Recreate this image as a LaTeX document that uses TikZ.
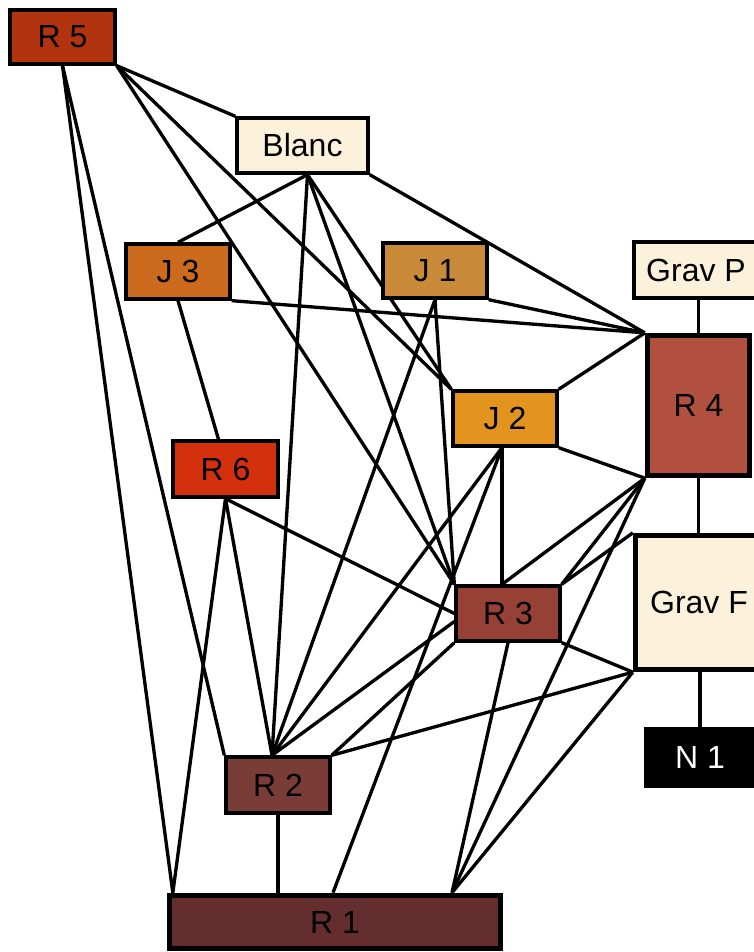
\documentclass[tikz,border=0pt]{standalone}
\usepackage{fontspec}
\setmainfont{Liberation Sans}
\usetikzlibrary{calc,backgrounds}
\definecolor{cR5}{HTML}{B2340E}
\definecolor{cCream}{HTML}{FCF2DC}
\definecolor{cJ3}{HTML}{CC6A1E}
\definecolor{cJ1}{HTML}{C98A3A}
\definecolor{cJ2}{HTML}{E3941E}
\definecolor{cR4}{HTML}{B25040}
\definecolor{cR6}{HTML}{D5300E}
\definecolor{cR3}{HTML}{964036}
\definecolor{cR2}{HTML}{7A3C37}
\definecolor{cR1}{HTML}{632E2D}
\begin{document}
\begin{tikzpicture}[x=0.75pt,y=-0.75pt,
  box/.style={draw=black, line width=2.5pt, inner sep=0pt, text=black,
    font=\fontsize{24}{28}\selectfont},
  thickbox/.style={box, line width=4pt},
  edge/.style={draw=black, line width=2.5pt}]
\useasboundingbox (0,0) rectangle (753,952);

% nodes
\node[box, fill=cR5, minimum width=78.75pt, minimum height=40.5pt] (R5) at (62.5,37) {R 5};
\node[box, fill=cCream, minimum width=98.25pt, minimum height=41.25pt] (Blanc) at (302.5,145.5) {Blanc};
\node[box, fill=cJ3, minimum width=78pt, minimum height=41.25pt] (J3) at (178,271.5) {J 3};
\node[box, fill=cJ1, minimum width=78pt, minimum height=41.25pt] (J1) at (435,270.5) {J 1};
\node[box, fill=cCream, minimum width=93pt, minimum height=42pt] (GravP) at (696,270) {Grav P};
\node[thickbox, fill=cR4, minimum width=76.5pt, minimum height=105pt] (R4) at (698.5,405.5) {R 4};
\node[box, fill=cJ2, minimum width=78pt, minimum height=41.25pt] (J2) at (505,418.5) {J 2};
\node[box, fill=cR6, minimum width=78.75pt, minimum height=42pt] (R6) at (225.5,469) {R 6};
\node[box, fill=cR3, minimum width=78pt, minimum height=41.25pt] (R3) at (508,613.5) {R 3};
\node[thickbox, fill=cCream, minimum width=95.25pt, minimum height=100.5pt] (GravF) at (699,602.5) {Grav F};
\node[box, fill=black, text=white, minimum width=81pt, minimum height=42.75pt] (N1) at (700,757.5) {N 1};
\node[box, fill=cR2, minimum width=78pt, minimum height=42pt] (R2) at (278,785) {R 2};
\node[thickbox, fill=cR1, minimum width=248.25pt, minimum height=40pt] (R1) at (335,922) {R 1};

% connector end points
\coordinate (R1a) at ($(R1.north west)+(6,0)$);
\coordinate (R1b) at (R2.south |- R1.north);
\coordinate (R1c) at ($(R1.north)+(-2,0)$);
\coordinate (R1d) at ($(R1.north)+(117,0)$);
\coordinate (Bs) at ($(Blanc.south)+(5,0)$);
\coordinate (R2n) at ($(R2.north)+(-6,0)$);
\coordinate (R6n) at ($(R6.north)+(-7,0)$);
\coordinate (J2s) at ($(J2.south)+(-3,0)$);
\coordinate (R3n) at (J2s |- R3.north);
\coordinate (R3w2) at ($(R3.west)+(0,8)$);
\coordinate (GPs) at (R4.north |- GravP.south);
\coordinate (GFn) at (R4.south |- GravF.north);
\coordinate (GFs) at (GravF.south -| N1.north);

\begin{scope}[on background layer]
\draw[edge] (R5.south east) -- (Blanc.north west);
\draw[edge] (R5.south east) -- (J2.north west);
\draw[edge] (R5.south east) -- (R3.north west);
\draw[edge] (R5.south) -- (R2.north west);
\draw[edge] (R5.south) -- (R1a);
\draw[edge] (Bs) -- (J3.north);
\draw[edge] (Bs) -- (R2n);
\draw[edge] (Bs) -- (R3.north west);
\draw[edge] (Bs) -- (J2.north west);
\draw[edge] (Blanc.south east) -- (R4.north west);
\draw[edge] (J3.south) -- (R6n);
\draw[edge] (J3.south east) -- (R4.north west);
\draw[edge] (J1.south east) -- (R4.north west);
\draw[edge] (J1.south) -- (R2n);
\draw[edge] (J1.south) -- (R3.north west);
\draw[edge] (J2.north east) -- (R4.north west);
\draw[edge] (J2.south east) -- (R4.south west);
\draw[edge] (J2s) -- (R3n);
\draw[edge] (J2s) -- (R2n);
\draw[edge] (J2s) -- (R1c);
\draw[edge] (R6.south) -- (R3.west);
\draw[edge] (R6.south) -- (R2n);
\draw[edge] (R6.south) -- (R1a);
\draw[edge] (R3w2) -- (R2n);
\draw[edge] (R3.south west) -- (R2.north east);
\draw[edge] (R3.south) -- (R1d);
\draw[edge] (R3.south east) -- (GravF.south west);
\draw[edge] (R3.north east) -- (R4.south west);
\draw[edge] (R3n) -- (R4.south west);
\draw[edge] (R3.north east) -- (GravF.north west);
\draw[edge] (R4.south west) -- (R1d);
\draw[edge] (GravF.south west) -- (R2.north east);
\draw[edge] (GravF.south west) -- (R1d);
\draw[edge] (R2.south) -- (R1b);
\draw[edge] (GPs) -- (R4.north);
\draw[edge] (R4.south) -- (GFn);
\draw[edge] (GFs) -- (N1.north);
\end{scope}
\end{tikzpicture}
\end{document}
